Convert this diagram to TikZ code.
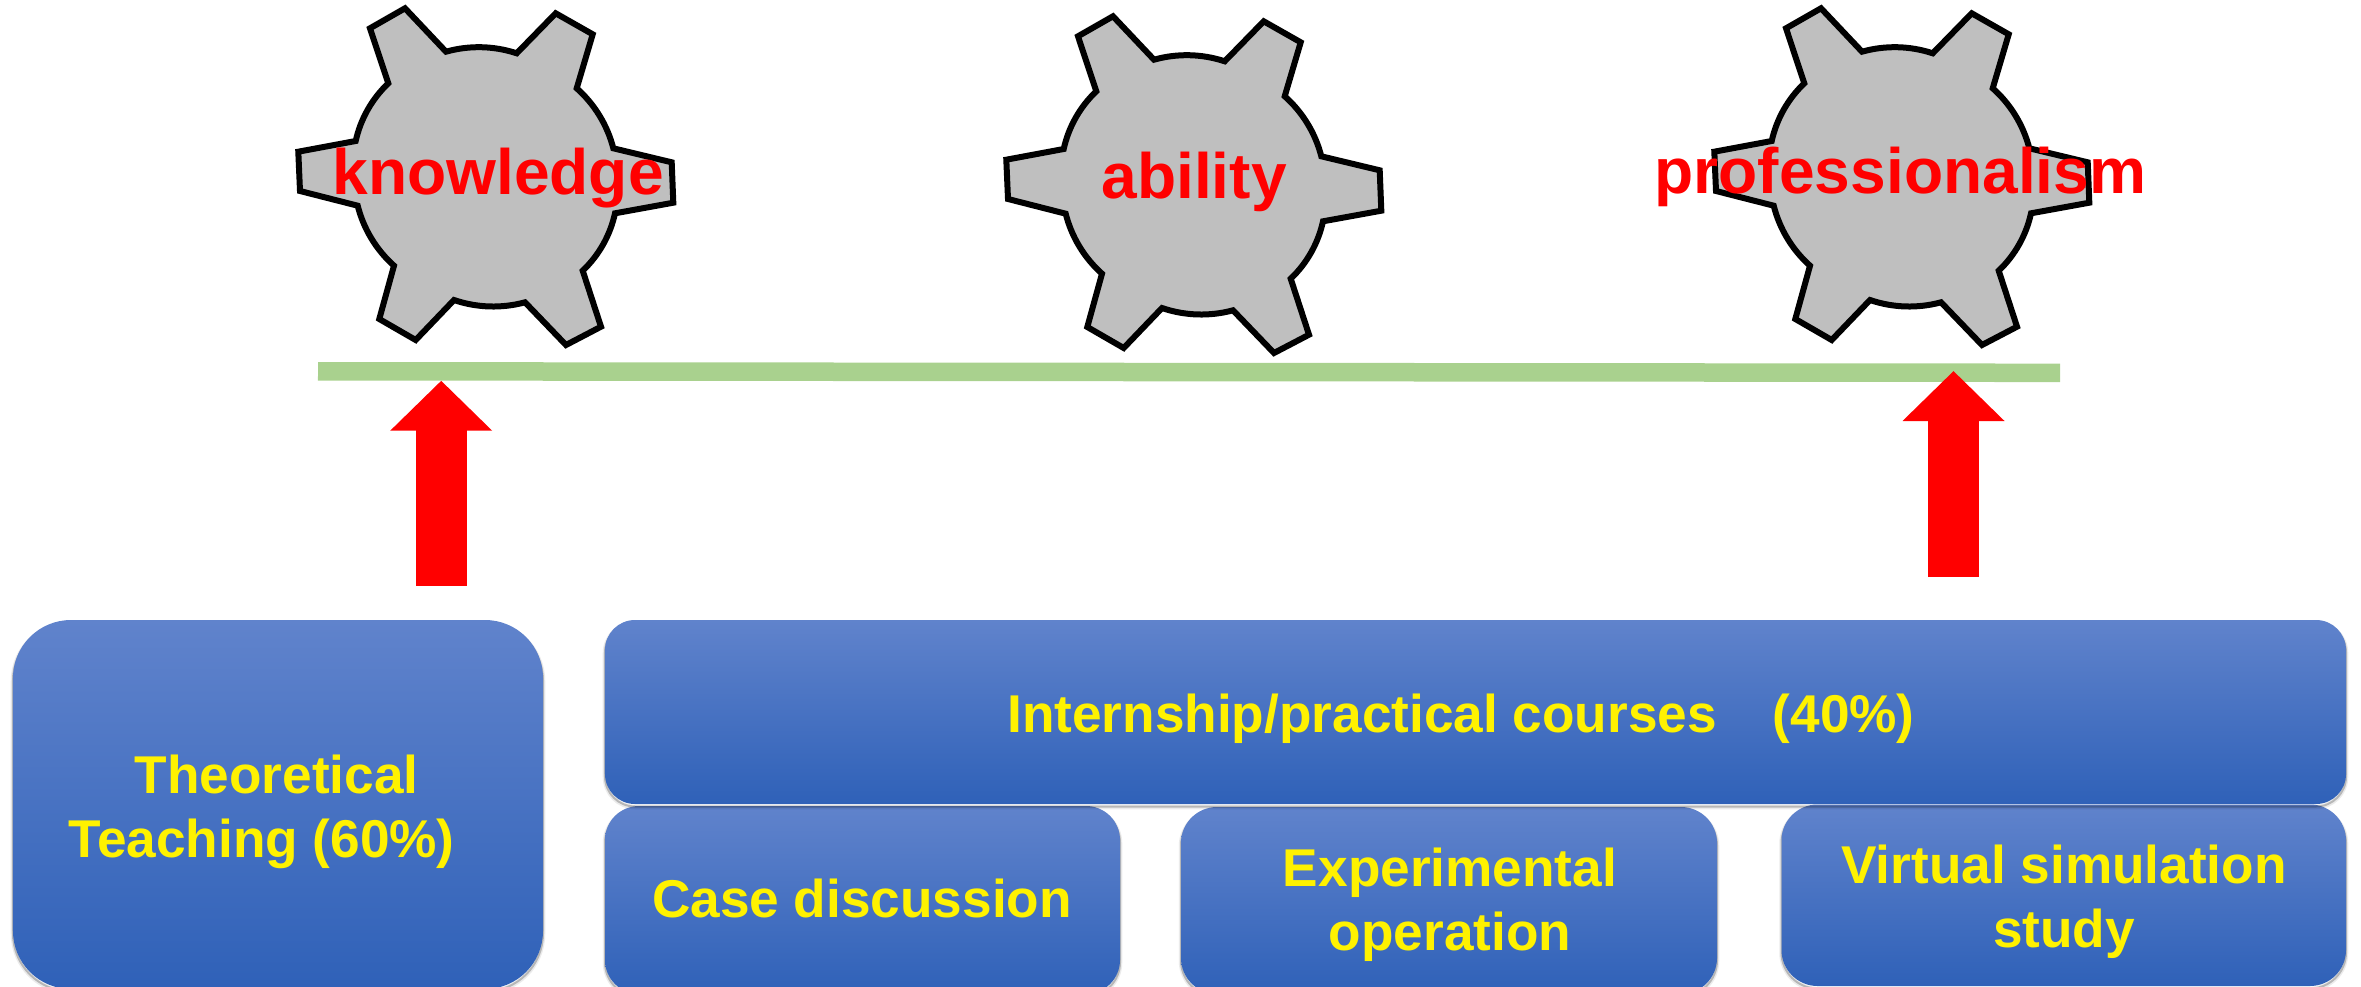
\documentclass[tikz,border=0pt]{standalone}
\usepackage{fontspec}
\setmainfont{Liberation Sans}
\usetikzlibrary{arrows.meta}
\definecolor{gearfill}{HTML}{BFBFBF}
\definecolor{barcol}{HTML}{A9D18E}
\definecolor{btop}{HTML}{6083CC}
\definecolor{bmid}{HTML}{3F6FC8}
\definecolor{bbot}{HTML}{2F61B8}
\tikzset{
  gearArc/.style={bend left=17,looseness=.87},
  gearshape/.pic={
    \draw[fill=gearfill,draw=black,line width=6bp,miter limit=10]
      (405,8.3) -- (446,51.7) to[gearArc] (516.7,53.3) -- (555.7,13.3) -- (592.7,34.3)
      -- (576.7,88.3) to[gearArc] (613.3,148.3) -- (671.7,162.3) -- (673.3,202.7)
      -- (615,213.3) to[gearArc] (582.7,270.7) -- (601,326.7) -- (566,345)
      -- (525,302.3) to[gearArc] (454,300) -- (415.7,340) -- (379.3,319)
      -- (394,265.7) to[gearArc] (357.7,205.7) -- (300,191) -- (298.3,151.7)
      -- (355.7,141) to[gearArc] (388.3,83.3) -- (370,28.3) -- cycle;
  },
  bluebox/.style={rectangle,inner sep=0pt,outer sep=0pt,
    top color=btop,middle color=bmid,bottom color=bbot,shading angle=0,
    preaction={draw=black,draw opacity=.08,line width=4.5bp,transform canvas={yshift=-3bp}},
    preaction={draw=black,draw opacity=.22,line width=2bp,transform canvas={yshift=-2.5bp}}},
  boxtext/.style={text=yellow,font=\fontsize{53.2bp}{64bp}\selectfont\bfseries,align=center,anchor=base,inner sep=0pt},
  geartext/.style={text=red,font=\fontsize{64.1bp}{72bp}\selectfont\bfseries,anchor=base,inner sep=0pt},
  bar/.style={draw=barcol,line width=18.5bp},
  bigarrow/.style={draw=red,line width=51bp,-{Triangle[length=50bp,width=99bp,fill=red]}},
}
\begin{document}
\begin{tikzpicture}[x=1bp,y=-1bp]
\useasboundingbox (0,0) rectangle (2361,986.5);
% gears
\pic (gearA) at (0,0) {gearshape};
\pic (gearB) at (708,8) {gearshape};
\pic (gearC) at (1416,0) {gearshape};
% beam
\coordinate (barL) at (318,371.3);
\coordinate (barR) at (2060,372.8);
\draw[bar] (barL) -- (barR);
% arrows
\coordinate (arrowAfrom) at (441.2,585.7);
\coordinate (arrowAto) at (441.2,380.7);
\coordinate (arrowBfrom) at (1953.5,577);
\coordinate (arrowBto) at (1953.5,371);
\draw[bigarrow] (arrowAfrom) -- (arrowAto);
\draw[bigarrow] (arrowBfrom) -- (arrowBto);
% boxes
\node[bluebox,rounded corners=58bp,minimum width=530bp,minimum height=369bp] (theory) at (278,804.5) {};
\node[bluebox,rounded corners=34bp,minimum width=515bp,minimum height=188bp] (caseb) at (862.5,900) {};
\node[bluebox,rounded corners=36bp,minimum width=536bp,minimum height=187bp] (expb) at (1449,900.5) {};
\node[bluebox,rounded corners=36bp,minimum width=564.5bp,minimum height=181.5bp] (virt) at (2063.75,895.25) {};
\node[bluebox,rounded corners=30bp,minimum width=1741bp,minimum height=184bp] (intern) at (1475.5,712) {};
% box texts
\node[boxtext] (theoryT) at (261.6,857) {\hspace*{30bp}Theoretical\\Teaching (60\%)};
\node[boxtext] (internT) at (1461,732) {Internship/practical courses\hspace*{56bp}(40\%)};
\node[boxtext] (caseT) at (862,917) {Case discussion};
\node[boxtext] (expT) at (1450,950.7) {Experimental\\operation};
\node[boxtext] (virtT) at (2064,947) {Virtual simulation\\study};
% gear labels
\node[geartext] (knowT) at (498,194) {knowledge};
\node[geartext] (abilT) at (1194,198) {ability};
\node[geartext] (profT) at (1900.5,193) {professionalism};
\end{tikzpicture}
\end{document}
